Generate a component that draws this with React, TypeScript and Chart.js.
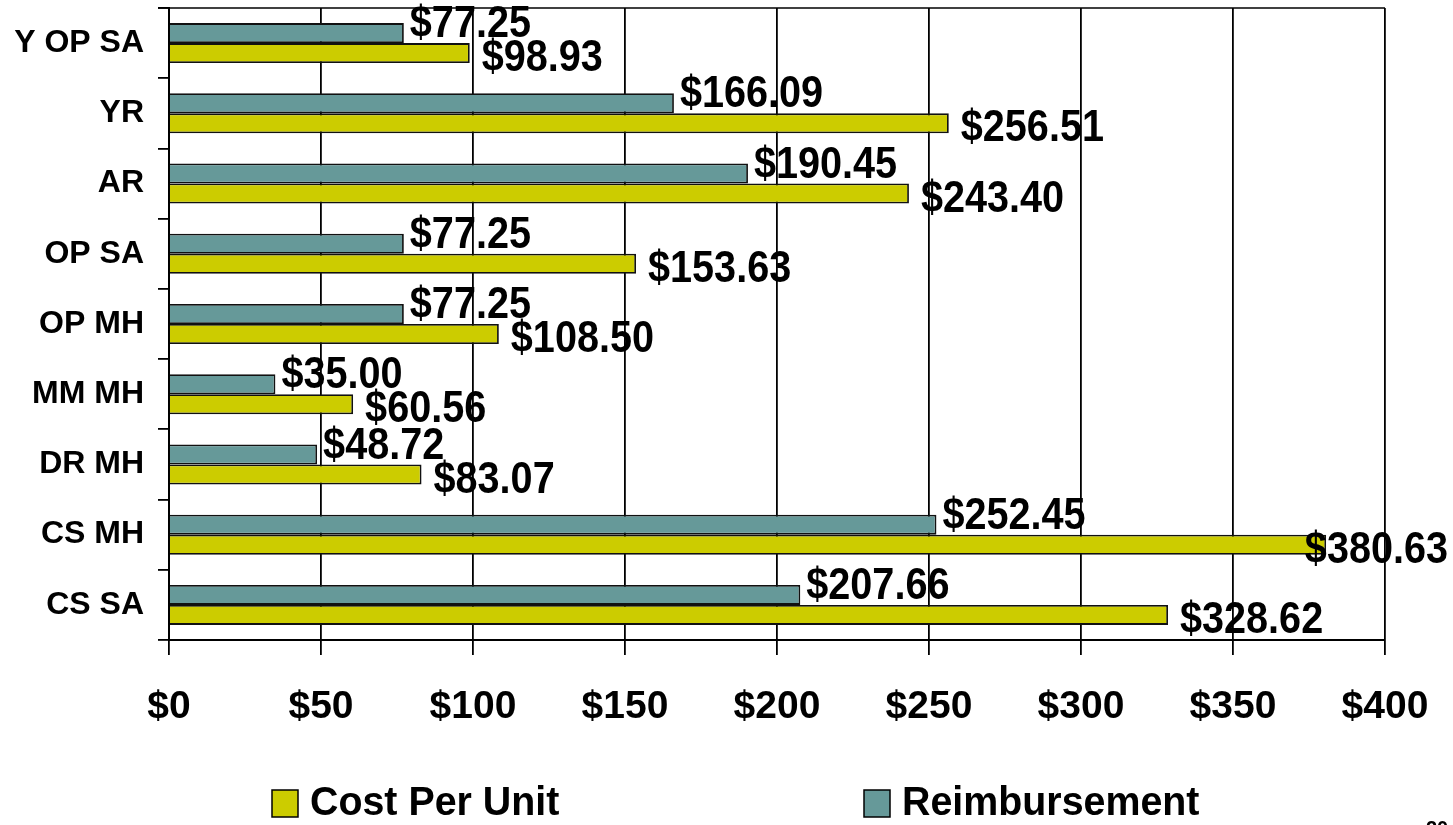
import React, { useEffect, useRef } from "react";
import { Chart, registerables } from "chart.js";

Chart.register(...registerables);

const categories = ["Y OP SA", "YR", "AR", "OP SA", "OP MH", "MM MH", "DR MH", "CS MH", "CS SA"];
const reimbursement = [77.25, 166.09, 190.45, 77.25, 77.25, 35.0, 48.72, 252.45, 207.66];
const costPerUnit = [98.93, 256.51, 243.4, 153.63, 108.5, 60.56, 83.07, 380.63, 328.62];
const xTicks = [0, 50, 100, 150, 200, 250, 300, 350, 400];

const TEAL = "#669999";
const YELLOW = "#CCCC00";
const FONT = 'Arial, "Liberation Sans", sans-serif';

const fmtMoney = (v: number) => "$" + v.toFixed(2);

const labelPlugin = {
  id: "valueLabels",
  afterDatasetsDraw(chart: any) {
    const ctx = chart.ctx;
    const sx = 0.9;
    ctx.save();
    ctx.font = `bold 44px ${FONT}`;
    ctx.fillStyle = "#000";
    ctx.textBaseline = "middle";
    ctx.textAlign = "left";
    chart.data.datasets.forEach((ds: any, di: number) => {
      const meta = chart.getDatasetMeta(di);
      meta.data.forEach((el: any, i: number) => {
        const txt = fmtMoney(ds.data[i]);
        const w = ctx.measureText(txt).width * sx;
        const dx = di === 0 ? 6 : 12;
        const dy = di === 0 ? -8 : 6;
        let x = el.x + dx;
        if (x + w > chart.width - 5) x = chart.width - 5 - w;
        ctx.save();
        ctx.translate(x, el.y + dy);
        ctx.scale(sx, 1);
        ctx.fillText(txt, 0, 0);
        ctx.restore();
      });
    });
    ctx.restore();
  },
};

const framePlugin = {
  id: "frameAndLegend",
  afterDraw(chart: any) {
    const ctx = chart.ctx;
    const a = chart.chartArea;
    ctx.save();
    // top frame line
    ctx.strokeStyle = "#000";
    ctx.lineWidth = 1.5;
    ctx.beginPath();
    ctx.moveTo(a.left - 11, a.top);
    ctx.lineTo(a.right, a.top);
    ctx.stroke();

    // legend
    const items = [
      { label: chart.data.datasets[1].label, color: YELLOW, x: 272 },
      { label: chart.data.datasets[0].label, color: TEAL, x: 864 },
    ];
    ctx.font = `bold 41px ${FONT}`;
    ctx.textBaseline = "middle";
    ctx.textAlign = "left";
    items.forEach((it) => {
      ctx.fillStyle = it.color;
      ctx.fillRect(it.x, 790, 26, 27);
      ctx.strokeStyle = "#000";
      ctx.lineWidth = 1.5;
      ctx.strokeRect(it.x, 790, 26, 27);
      ctx.fillStyle = "#000";
      ctx.save();
      ctx.translate(it.x + 38, 804);
      ctx.scale(0.96, 1);
      ctx.fillText(it.label, 0, 0);
      ctx.restore();
    });

    // page number (cut off at bottom)
    ctx.font = `bold 20px ${FONT}`;
    ctx.textAlign = "center";
    ctx.textBaseline = "alphabetic";
    ctx.fillText("20", 1437, 835);
    ctx.restore();
  },
};

export default function App() {
  const ref = useRef<HTMLCanvasElement | null>(null);

  useEffect(() => {
    document.body.style.margin = "0";
    if (!ref.current) return;
    const chart = new Chart(ref.current, {
      type: "bar",
      data: {
        labels: categories,
        datasets: [
          {
            label: "Reimbursement",
            data: reimbursement,
            backgroundColor: TEAL,
            borderColor: "#111",
            borderWidth: 1.8,
            categoryPercentage: 0.57,
            barPercentage: 1,
          },
          {
            label: "Cost Per Unit",
            data: costPerUnit,
            backgroundColor: YELLOW,
            borderColor: "#111",
            borderWidth: 1.8,
            categoryPercentage: 0.57,
            barPercentage: 1,
          },
        ],
      },
      options: {
        indexAxis: "y",
        animation: false,
        responsive: true,
        maintainAspectRatio: false,
        layout: { padding: { left: 0, right: 68, top: 8, bottom: 85 } },
        plugins: {
          legend: { display: false },
          tooltip: { enabled: false },
        },
        scales: {
          x: {
            type: "linear",
            min: 0,
            max: 400,
            afterBuildTicks: (s: any) => {
              s.ticks = xTicks.map((v) => ({ value: v }));
            },
            afterFit: (s: any) => {
              s.height = 100;
              s.paddingLeft = 0;
              s.paddingRight = 0;
            },
            ticks: {
              color: "#000",
              font: { family: FONT, size: 39, weight: "bold" },
              padding: 29,
              maxRotation: 0,
              autoSkip: false,
              callback: (v: any) => "$" + v,
            },
            grid: {
              color: "#000",
              lineWidth: 1.8,
              tickLength: 15,
              drawOnChartArea: true,
            },
            border: { color: "#000", width: 2 },
          },
          y: {
            type: "category",
            offset: true,
            afterFit: (s: any) => {
              s.width = 169;
              s.paddingTop = 0;
              s.paddingBottom = 0;
            },
            ticks: {
              color: "#000",
              font: { family: FONT, size: 32, weight: "bold" },
              padding: 14,
              autoSkip: false,
            },
            grid: {
              color: "#000",
              lineWidth: 1.8,
              tickLength: 11,
              drawOnChartArea: false,
              offset: true,
            },
            border: { color: "#000", width: 2 },
          },
        },
      },
      plugins: [labelPlugin, framePlugin],
    });
    return () => chart.destroy();
  }, []);

  return (
    <div style={{ position: "absolute", left: 0, top: 0, width: 1453, height: 825, background: "#fff" }}>
      <canvas ref={ref} />
    </div>
  );
}
